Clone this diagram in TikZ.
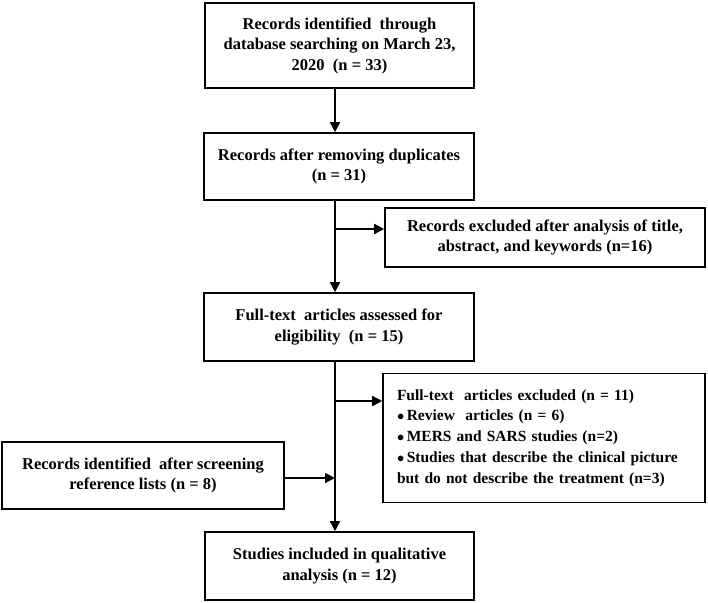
\documentclass[tikz,border=0pt]{standalone}
\usepackage{fontspec}
\setmainfont{Liberation Serif}
\usepackage{tikz}
\usetikzlibrary{arrows.meta}

\tikzset{
  stage/.style={draw, line width=1.6pt, align=center, inner sep=0pt,
    font={\bfseries\fontsize{16.5}{20.5}\selectfont}},
  flow/.style={line width=1.6pt, -{Triangle[length=10pt,width=10pt]}}
}

\begin{document}
\begin{tikzpicture}[x=1pt,y=1pt,yscale=-1,xscale=1]
\useasboundingbox (0,0) rectangle (708,602);

% Main boxes
\node [stage, minimum width=269, minimum height=85] (rec) at (339.5,45.5)
  {Records identified\ \ through\\database searching on March 23,\\2020\ \ (n = 33)};
\node [stage, minimum width=270, minimum height=67] (dup) at (339,166.5)
  {Records after removing duplicates\\(n = 31)};
\node [stage, minimum width=270, minimum height=68] (full) at (339,327)
  {Full-text\ \ articles assessed for\\eligibility\ \ (n = 15)};
\node [stage, minimum width=269, minimum height=68] (incl) at (339.5,566)
  {Studies included in qualitative\\analysis (n = 12)};

% Side boxes
\node [stage, minimum width=320, minimum height=59] (excl1) at (545,237.5)
  {Records excluded after analysis of title,\\abstract, and keywords (n=16)};
\node [stage, minimum width=322, minimum height=129, align=left, text width=294,
  font={\bfseries\fontsize{15.5}{20.8}\selectfont}] (excl2) at (544,438)
  {Full-text\ \ articles excluded (n = 11)\\
   $\bullet$\,Review\ \ articles (n = 6)\\
   $\bullet$\,MERS and SARS studies (n=2)\\
   $\bullet$\,Studies that describe the clinical picture\\
   but do not describe the treatment (n=3)};
\node [stage, minimum width=282, minimum height=67] (refl) at (143,475.5)
  {Records identified\ \ after screening\\reference lists (n = 8)};

% Trunk and branches
\coordinate (trunk) at (335,0);
\coordinate (b1) at (335,229);
\coordinate (b2) at (335,401);
\coordinate (b3) at (335,478);

\draw [flow] (rec.south -| trunk) -- (dup.north -| trunk);
\draw [flow] (dup.south -| trunk) -- (full.north -| trunk);
\draw [flow] (full.south -| trunk) -- (incl.north -| trunk);
\draw [flow] (b1) -- (b1 -| excl1.west);
\draw [flow] (b2) -- (b2 -| excl2.west);
\draw [flow] (refl.east |- b3) -- (b3);

\end{tikzpicture}
\end{document}
